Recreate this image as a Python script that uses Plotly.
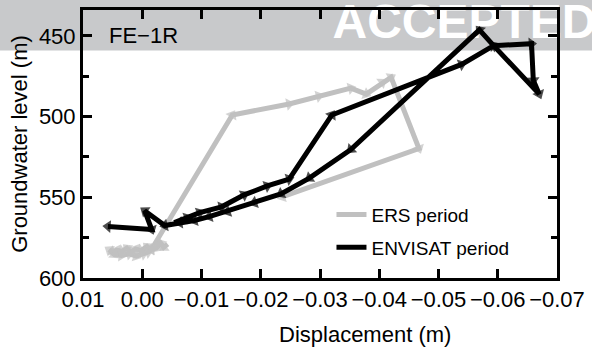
import plotly.graph_objects as go

# ---------------- data ----------------
ers_x = [-0.0043, -0.0036, -0.0031, -0.0024, -0.0014, -0.0008, 0.0002, 0.0011, 0.0019, 0.0026,
         0.0034, 0.0043, 0.0050, 0.0056, 0.0047, 0.0035, 0.0022, 0.0010, -0.0002, -0.0010,
         -0.0016, -0.0152, -0.0248, -0.0298, -0.0352, -0.0378, -0.0405, -0.0420, -0.0467, -0.0236]
ers_y = [579, 581, 578.5, 581.5, 582.5, 580.5, 583, 582, 584, 581.5,
         583.5, 582.8, 584, 582.5, 585.5, 586, 585, 586.5, 585, 584,
         582, 499.0, 492.2, 487.3, 482.4, 486.1, 478.8, 475.7, 519.8, 549.8]

env_x = [-0.0054, -0.0076, -0.0097, -0.0134, -0.0172, -0.0211, -0.0248, -0.0320, -0.0539, -0.0593,
         -0.0657, -0.0660, -0.0670, -0.0593, -0.0569, -0.0352, -0.0282, -0.0234, -0.0189, -0.0144,
         -0.0113, -0.0088, -0.0063, -0.0038, -0.0004, -0.0016, 0.0058]
env_y = [565.7, 562.6, 559.5, 555.9, 548.5, 543.0, 538.7, 499.0, 467.7, 456.1,
         454.9, 477.5, 486.1, 456.1, 446.3, 520.4, 538.1, 547.9, 553.4, 558.9,
         562.0, 564.4, 565.7, 567.5, 558.3, 570.0, 568.1]

x_tickvals = [0.01, 0.00, -0.01, -0.02, -0.03, -0.04, -0.05, -0.06, -0.07]
x_ticktext = ["0.01", "0.00", "\u22120.01", "\u22120.02", "\u22120.03", "\u22120.04",
              "\u22120.05", "\u22120.06", "\u22120.07"]
y_tickvals = [450, 500, 550, 600]

series_names = ["ERS period", "ENVISAT period"]
GRAY = "#c0c0c0"
BLACK = "#000000"
FONT = "Liberation Sans"

fig = go.Figure()


def path_trace(xs, ys, color):
    sizes = [0] + [11] * (len(xs) - 1)
    return go.Scatter(
        x=xs, y=ys, mode="lines+markers",
        line=dict(color=color, width=5),
        marker=dict(symbol="triangle-up", angleref="previous", size=sizes, color=color,
                    line=dict(width=0)),
        showlegend=False, hoverinfo="skip",
    )


fig.add_trace(path_trace(ers_x, ers_y, GRAY))
fig.add_trace(path_trace(env_x, env_y, BLACK))

# legend entries
fig.add_trace(go.Scatter(x=[None], y=[None], mode="lines", name=series_names[0],
                         line=dict(color=GRAY, width=5), legend="legend"))
fig.add_trace(go.Scatter(x=[None], y=[None], mode="lines", name=series_names[1],
                         line=dict(color=BLACK, width=5), legend="legend2"))

L, R, T, B = 83, 34, 7, 75
W, H = 592, 353
pw, ph = W - L - R, H - T - B


def px_x(p):
    return (p - L) / pw


def px_y(p):
    return (H - B - p) / ph


fig.update_layout(
    width=W, height=H,
    margin=dict(l=L, r=R, t=T, b=B, pad=0),
    paper_bgcolor="white", plot_bgcolor="rgba(0,0,0,0)",
    font=dict(family=FONT, size=22, color="black"),
    xaxis=dict(
        range=[0.01, -0.07], tickvals=x_tickvals, ticktext=x_ticktext,
        ticks="inside", ticklen=9, tickwidth=3, tickcolor="black",
        showline=True, linewidth=3, linecolor="black", mirror="allticks",
        showgrid=False, zeroline=False, tickfont=dict(size=22),
        ticklabelstandoff=0,
    ),
    yaxis=dict(
        range=[600, 434], tickvals=y_tickvals,
        ticks="inside", ticklen=9, tickwidth=3, tickcolor="black",
        minor=dict(dtick=25, tick0=0, ticks="inside", ticklen=6, tickwidth=3, tickcolor="black"),
        showline=True, linewidth=3, linecolor="black", mirror="allticks",
        showgrid=False, zeroline=False, tickfont=dict(size=22),
        title=dict(text="Groundwater level (m)", font=dict(size=22), standoff=6),
    ),
    legend=dict(x=px_x(332), y=px_y(214), xanchor="left", yanchor="middle",
                bgcolor="rgba(0,0,0,0)", font=dict(size=19)),
    legend2=dict(x=px_x(332), y=px_y(247), xanchor="left", yanchor="middle",
                 bgcolor="rgba(0,0,0,0)", font=dict(size=19)),
    shapes=[
        dict(type="rect", xref="paper", yref="paper", x0=-0.3, x1=1.2,
             y0=px_y(48), y1=px_y(-5), fillcolor="#c8c9cb", line=dict(width=0), layer="below"),
        dict(type="rect", xref="paper", yref="paper", x0=px_x(330), x1=px_x(640),
             y0=px_y(35), y1=px_y(-7), fillcolor="rgba(0,0,0,0)", line=dict(width=0),
             layer="below",
             label=dict(text="ACCEPTED", textposition="middle left", padding=0,
                        font=dict(family=FONT, size=48, color="white", weight="bold"))),
    ],
    annotations=[
        dict(text="FE\u22121R", xref="paper", yref="y", x=px_x(107), y=450,
             xanchor="left", yanchor="middle", showarrow=False, font=dict(size=22)),
        dict(text="Displacement (m)", xref="paper", yref="paper", x=px_x(366), y=px_y(335),
             xanchor="center", yanchor="middle", showarrow=False, font=dict(size=22)),
    ],
)

fig.write_html("out.html")
